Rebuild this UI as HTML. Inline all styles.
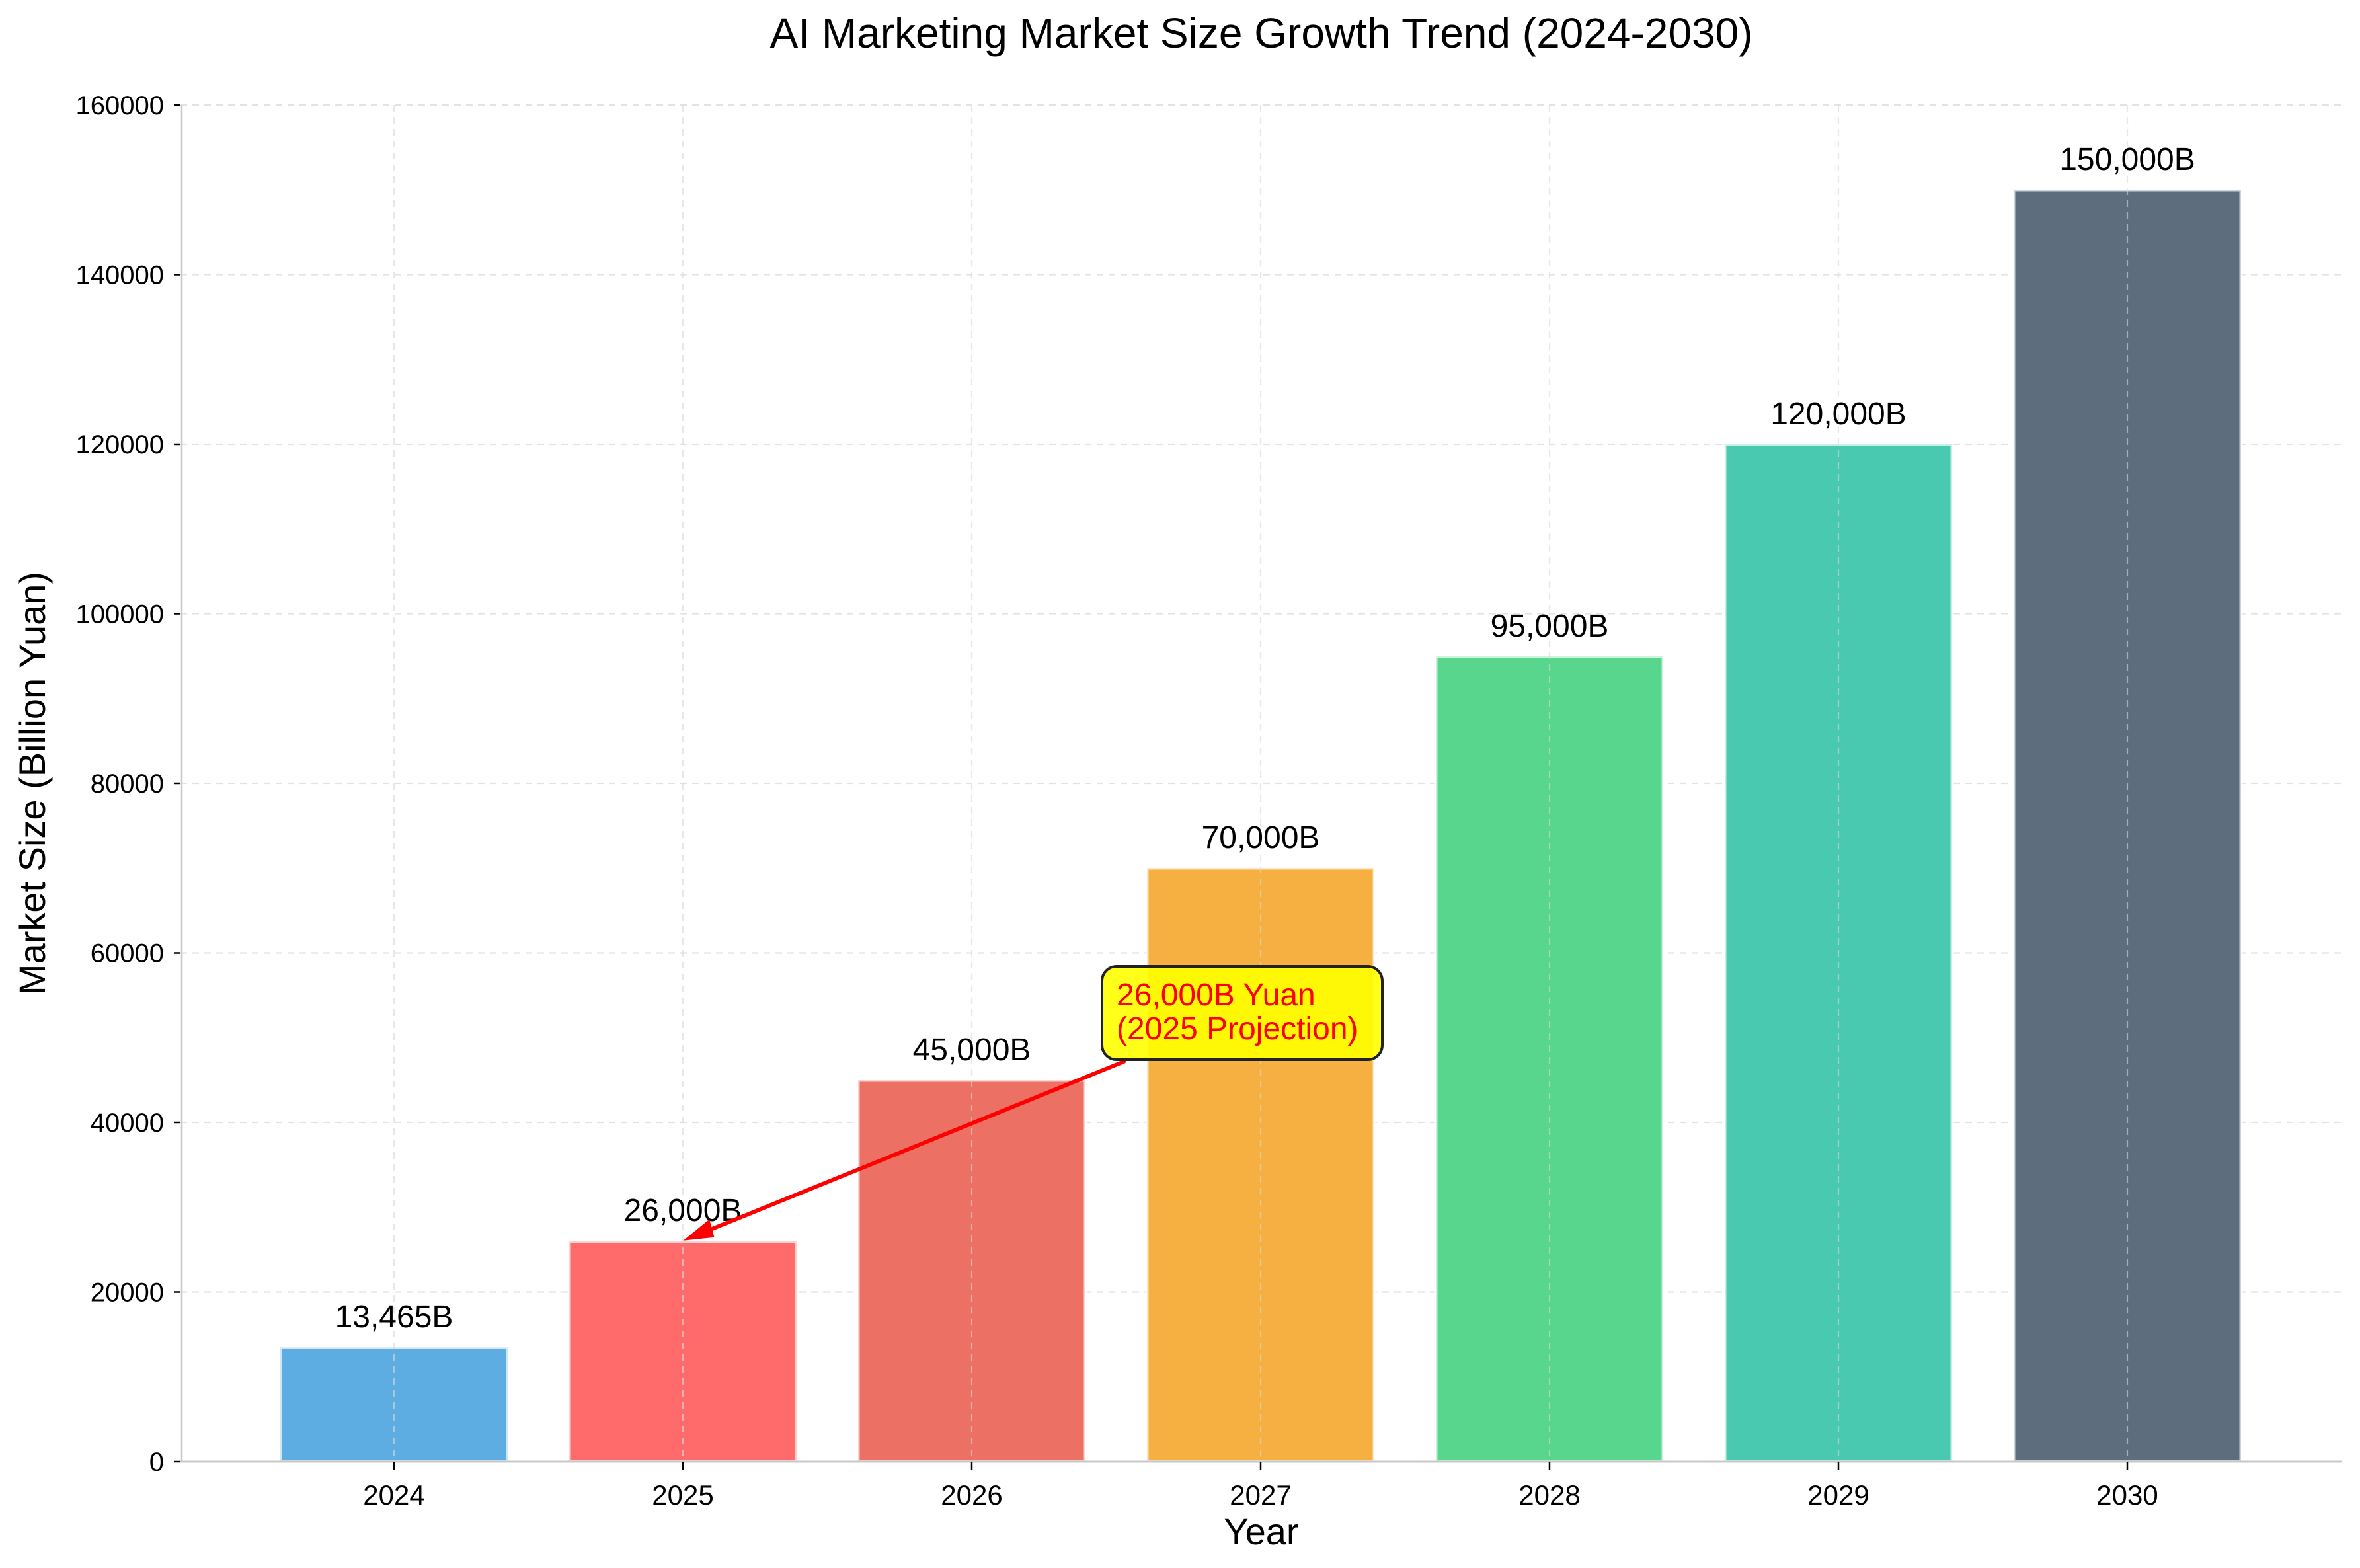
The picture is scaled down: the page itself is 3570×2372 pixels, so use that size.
<!DOCTYPE html>
<html><head><meta charset="utf-8"><style>
html,body{margin:0;padding:0;background:#fff;}
svg{display:block;}
text{font-family:"Liberation Sans",sans-serif;}
</style></head><body>
<svg width="3570" height="2372" viewBox="0 0 3570 2372" xmlns="http://www.w3.org/2000/svg">
<rect width="3570" height="2372" fill="#fff"/>
<g stroke="#e3e3e3" stroke-width="2.2" stroke-dasharray="10,8">
<line x1="273" x2="3543" y1="2211" y2="2211"/>
<line x1="273" x2="3543" y1="1954.5" y2="1954.5"/>
<line x1="273" x2="3543" y1="1698" y2="1698"/>
<line x1="273" x2="3543" y1="1441.5" y2="1441.5"/>
<line x1="273" x2="3543" y1="1185" y2="1185"/>
<line x1="273" x2="3543" y1="928.5" y2="928.5"/>
<line x1="273" x2="3543" y1="672" y2="672"/>
<line x1="273" x2="3543" y1="415.5" y2="415.5"/>
<line x1="273" x2="3543" y1="159" y2="159"/>
</g>
<g stroke="#ffffff" stroke-opacity="0.7" stroke-width="5">
<rect x="424" y="2038.3" width="344" height="172.7" fill="#5DADE2"/>
<rect x="861" y="1877.5" width="344" height="333.5" fill="#FF6B6B"/>
<rect x="1298" y="1634" width="344" height="577" fill="#EC7063"/>
<rect x="1735" y="1313" width="344" height="898" fill="#F5B041"/>
<rect x="2172" y="993" width="344" height="1218" fill="#58D68D"/>
<rect x="2609" y="672" width="344" height="1539" fill="#48C9B0"/>
<rect x="3046" y="287" width="344" height="1924" fill="#5D6D7E"/>
</g>
<g stroke="#d8d8d8" stroke-opacity="0.6" stroke-width="2.2" stroke-dasharray="10,8">
<line x1="596" x2="596" y1="159" y2="2211"/>
<line x1="1033" x2="1033" y1="159" y2="2211"/>
<line x1="1470" x2="1470" y1="159" y2="2211"/>
<line x1="1907" x2="1907" y1="159" y2="2211"/>
<line x1="2344" x2="2344" y1="159" y2="2211"/>
<line x1="2781" x2="2781" y1="159" y2="2211"/>
<line x1="3218" x2="3218" y1="159" y2="2211"/>
</g>
<line x1="275" x2="275" y1="159" y2="2212" stroke="#c8c8c8" stroke-width="2.5"/>
<line x1="273" x2="3543" y1="2211" y2="2211" stroke="#c8c8c8" stroke-width="3"/>
<g stroke="#000" stroke-width="2.5">
<line x1="263" x2="273" y1="2211" y2="2211"/><line x1="263" x2="273" y1="1954.5" y2="1954.5"/>
<line x1="263" x2="273" y1="1698" y2="1698"/><line x1="263" x2="273" y1="1441.5" y2="1441.5"/>
<line x1="263" x2="273" y1="1185" y2="1185"/><line x1="263" x2="273" y1="928.5" y2="928.5"/>
<line x1="263" x2="273" y1="672" y2="672"/><line x1="263" x2="273" y1="415.5" y2="415.5"/>
<line x1="263" x2="273" y1="159" y2="159"/>
<line x1="596" x2="596" y1="2212" y2="2223"/><line x1="1033" x2="1033" y1="2212" y2="2223"/>
<line x1="1470" x2="1470" y1="2212" y2="2223"/><line x1="1907" x2="1907" y1="2212" y2="2223"/>
<line x1="2344" x2="2344" y1="2212" y2="2223"/><line x1="2781" x2="2781" y1="2212" y2="2223"/>
<line x1="3218" x2="3218" y1="2212" y2="2223"/>
</g>
<g font-size="40" text-anchor="end" fill="#000">
<text x="248" y="2225">0</text><text x="248" y="1968.5">20000</text>
<text x="248" y="1712">40000</text><text x="248" y="1455.5">60000</text>
<text x="248" y="1199">80000</text><text x="248" y="942.5">100000</text>
<text x="248" y="686">120000</text><text x="248" y="429.5">140000</text>
<text x="248" y="173">160000</text>
</g>
<g font-size="42" text-anchor="middle" fill="#000">
<text x="596" y="2276">2024</text><text x="1033" y="2276">2025</text>
<text x="1470" y="2276">2026</text><text x="1907" y="2276">2027</text>
<text x="2344" y="2276">2028</text><text x="2781" y="2276">2029</text>
<text x="3218" y="2276">2030</text>
</g>
<g font-size="48" text-anchor="middle" fill="#000">
<text x="596" y="2008">13,465B</text>
<text x="1033" y="1847">26,000B</text>
<text x="1470" y="1604">45,000B</text>
<text x="1907" y="1283">70,000B</text>
<text x="2344" y="963">95,000B</text>
<text x="2781" y="642">120,000B</text>
<text x="3218" y="257">150,000B</text>
</g>
<text x="1908" y="72" font-size="64" text-anchor="middle">AI Marketing Market Size Growth Trend (2024-2030)</text>
<text x="1908" y="2336" font-size="56" text-anchor="middle">Year</text>
<text transform="translate(68,1185) rotate(-90)" font-size="56" text-anchor="middle">Market Size (Billion Yuan)</text>
<line x1="1700" y1="1606" x2="1060" y2="1866" stroke="#ff0000" stroke-width="6" stroke-linecap="round"/>
<polygon points="1040,1874 1072,1848 1078,1870" fill="#ff0000" stroke="#ff0000" stroke-width="4"/>
<rect x="1667" y="1462" width="424" height="141" rx="22" fill="#ffff00" fill-opacity="0.9" stroke="#222" stroke-width="4"/>
<text x="1689" y="1521" font-size="48" fill="#ff0000">26,000B Yuan</text>
<text x="1689" y="1572" font-size="48" fill="#ff0000">(2025 Projection)</text>
</svg>
</body></html>
